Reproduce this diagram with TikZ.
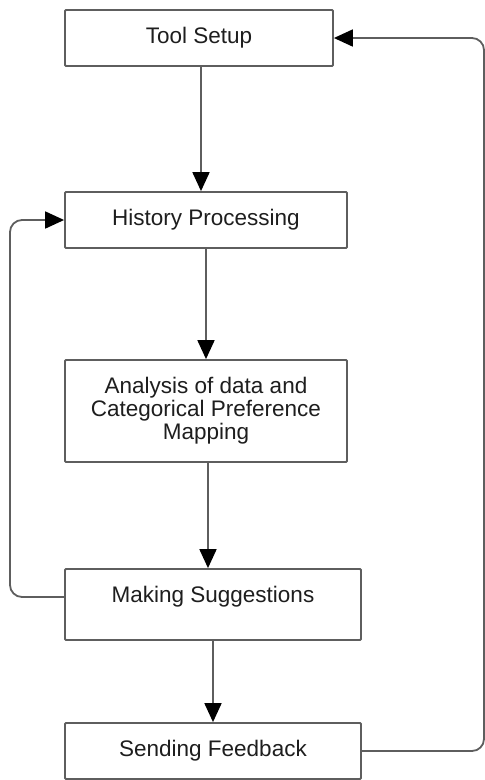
\documentclass[tikz,border=0pt]{standalone}
\usepackage{fontspec}
\setmainfont{Liberation Sans}
\usetikzlibrary{arrows.meta}
\definecolor{linegray}{HTML}{5E5E5E}
\definecolor{textdark}{HTML}{1E1E1E}
\begin{document}
\begin{tikzpicture}[x=1pt,y=-1pt,
  stepbox/.style={draw=linegray, line width=1.8pt, rounded corners=1pt, fill=white,
    inner sep=0pt, align=center, text=textdark,
    font=\fontsize{22.5}{23}\selectfont},
  conn/.style={draw=linegray, line width=1.8pt,
    -{Triangle[length=19pt,width=17pt,color=black]}},
  loop/.style={conn, rounded corners=12pt}]
\useasboundingbox (0,0) rectangle (485,780);
\node[stepbox, minimum width=268pt, minimum height=56pt] (ts) at (199,38) {Tool Setup};
\node[stepbox, minimum width=282pt, minimum height=56pt] (hp) at (206,220) {History Processing};
\node[stepbox, minimum width=282pt, minimum height=102pt] (an) at (206,411) {Analysis of data and\\Categorical Preference\\Mapping};
\node[stepbox, minimum width=296pt, minimum height=71pt, text depth=19.5pt] (ms) at (213,604.5) {Making Suggestions};
\node[stepbox, minimum width=296pt, minimum height=56pt] (sf) at (213,751) {Sending Feedback};
\coordinate (lt) at (10,220);
\coordinate (lb) at (10,597);
\coordinate (rt) at (484,38);
\coordinate (rb) at (484,751);
\draw[conn] ([xshift=2pt]ts.south) -- ([xshift=2pt]ts.south |- hp.north);
\draw[conn] (hp.south) -- (an.north);
\draw[conn] ([xshift=2pt]an.south) -- ([xshift=2pt]an.south |- ms.north);
\draw[conn] (ms.south) -- (sf.north);
\draw[loop] ([yshift=7.5pt]ms.west) -- (lb) -- (lt) -- (hp.west);
\draw[loop] (sf.east) -- (rb) -- (rt) -- (ts.east);
\end{tikzpicture}
\end{document}
